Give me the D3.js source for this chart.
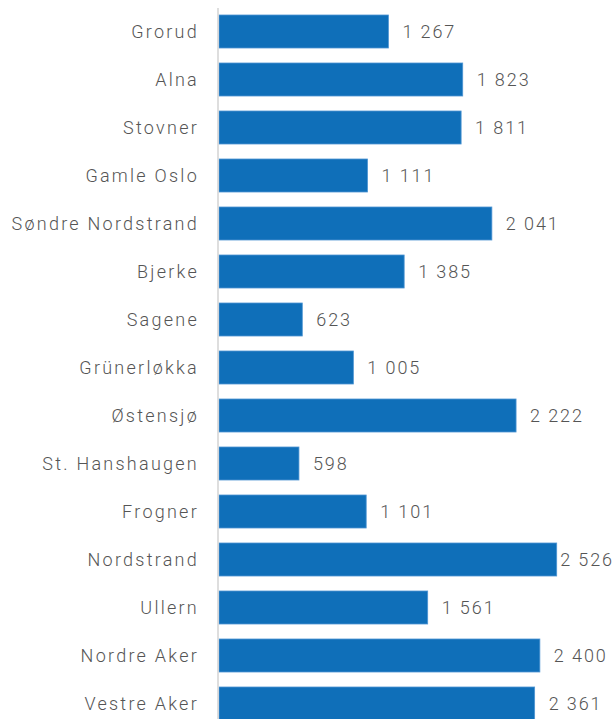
<!DOCTYPE html>
<html>
<head>
<meta charset="utf-8">
<script src="https://cdn.jsdelivr.net/npm/d3@7"></script>
<style>
  html, body { margin: 0; padding: 0; background: #fff; }
  svg { display: block; }
  text { font-family: Roboto, "Noto Sans", sans-serif; font-weight: 300; }
</style>
</head>
<body>
<svg id="chart" width="614" height="719"></svg>
<script>
const categories = ["Grorud", "Alna", "Stovner", "Gamle Oslo", "Søndre Nordstrand", "Bjerke", "Sagene", "Grünerløkka", "Østensjø", "St. Hanshaugen", "Frogner", "Nordstrand", "Ullern", "Nordre Aker", "Vestre Aker"];
const values = [1267, 1823, 1811, 1111, 2041, 1385, 623, 1005, 2222, 598, 1101, 2526, 1561, 2400, 2361];

const data = categories.map((c, i) => ({ name: c, value: values[i] }));

const W = 614, H = 719;
const svg = d3.select("#chart");

const x = d3.scaleLinear().domain([0, 2526]).range([219, 556.7]);
const y = d3.scaleBand().domain(categories).range([7.5, 727.5])
  .paddingInner(0.3125).paddingOuter(0.15625);

const locale = d3.formatLocale({ decimal: ",", thousands: "\u00a0", grouping: [3], currency: ["", ""] });
const fmt = locale.format(",d");

// bars
svg.append("g").selectAll("rect").data(data).join("rect")
  .attr("x", x(0))
  .attr("y", d => y(d.name))
  .attr("width", d => x(d.value) - x(0))
  .attr("height", y.bandwidth())
  .attr("fill", "#0f6fb9")
  .attr("stroke", "#4e95d3")
  .attr("stroke-width", 0.8);

// axis
const yAxis = d3.axisLeft(y).tickSize(0).tickPadding(20);
const gAxis = svg.append("g").attr("transform", `translate(218,0)`).call(yAxis);
gAxis.select(".domain").remove();
gAxis.append("line").attr("x1", 0).attr("x2", 0).attr("y1", 8).attr("y2", H)
  .attr("stroke", "#d6d6d6").attr("stroke-width", 1.6);
gAxis.selectAll(".tick text")
  .attr("font-family", "Roboto, sans-serif")
  .attr("font-weight", 300)
  .attr("font-size", 18)
  .attr("letter-spacing", "2.25px")
  .attr("fill", "#555555")
  .attr("dy", "0.35em")
  .attr("x", -19);

// value labels
const labels = svg.append("g").selectAll("text").data(data).join("text")
  .attr("x", d => x(d.value) + 14)
  .attr("y", d => y(d.name) + y.bandwidth() / 2)
  .attr("dy", "0.36em")
  .attr("font-size", 18)
  .attr("letter-spacing", "1.9px")
  .attr("fill", "#555555")
  .text(d => fmt(d.value));

labels.each(function () {
  const t = d3.select(this);
  const w = this.getComputedTextLength();
  const xx = +t.attr("x");
  if (xx + w > W) t.attr("x", W - w);
});
</script>
</body>
</html>
